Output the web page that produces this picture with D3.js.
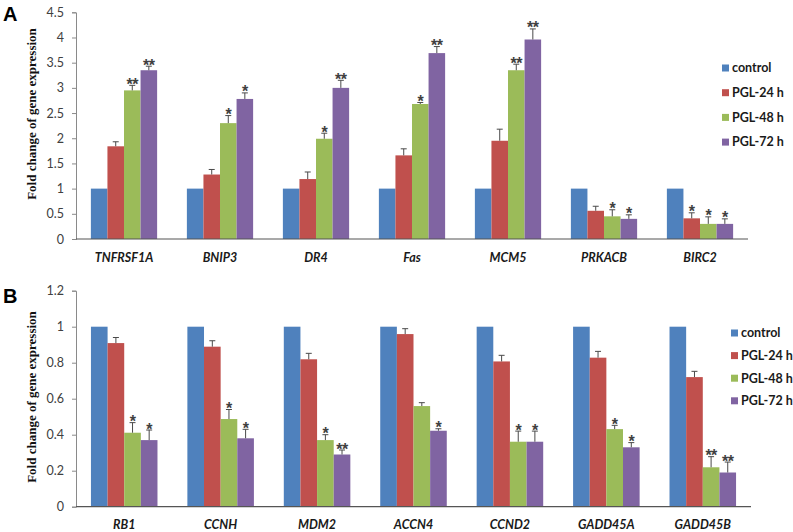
<!DOCTYPE html>
<html><head><meta charset="utf-8">
<script src="https://cdn.jsdelivr.net/npm/d3@7"></script>
<style>body{margin:0;background:#fff;} svg{display:block;}</style>
</head><body>
<svg id="c" width="793" height="532"></svg>
<script>
const series = ["control", "PGL-24 h", "PGL-48 h", "PGL-72 h"];
const colors = ["#4F81BD", "#C0504D", "#9BBB59", "#8064A2"];

// Panel A
const genesA = ["TNFRSF1A", "BNIP3", "DR4", "Fas", "MCM5", "PRKACB", "BIRC2"];
const controlA = [1, 1, 1, 1, 1, 1, 1];
const h24A = [1.84, 1.28, 1.19, 1.66, 1.95, 0.56, 0.41];
const h48A = [2.95, 2.30, 1.99, 2.68, 3.35, 0.45, 0.30];
const h72A = [3.35, 2.78, 3.00, 3.69, 3.96, 0.40, 0.30];
const errTop24A = [1.93, 1.38, 1.33, 1.79, 2.18, 0.65, 0.52];
const errTop48A = [3.05, 2.45, 2.10, 2.71, 3.47, 0.58, 0.44];
const errTop72A = [3.43, 2.90, 3.15, 3.82, 4.17, 0.48, 0.40];
const star24A = ["", "", "", "", "", "", "*"];
const star48A = ["**", "*", "*", "*", "**", "*", "*"];
const star72A = ["**", "*", "**", "**", "**", "*", "*"];
const ticksA = [0, 0.5, 1, 1.5, 2, 2.5, 3, 3.5, 4, 4.5];

// Panel B
const genesB = ["RB1", "CCNH", "MDM2", "ACCN4", "CCND2", "GADD45A", "GADD45B"];
const controlB = [1, 1, 1, 1, 1, 1, 1];
const h24B = [0.909, 0.889, 0.819, 0.959, 0.807, 0.828, 0.72];
const h48B = [0.411, 0.487, 0.370, 0.559, 0.361, 0.431, 0.219];
const h72B = [0.370, 0.380, 0.290, 0.422, 0.361, 0.330, 0.190];
const errTop24B = [0.94, 0.922, 0.852, 0.989, 0.841, 0.863, 0.752];
const errTop48B = [0.467, 0.54, 0.40, 0.578, 0.42, 0.452, 0.278];
const errTop72B = [0.426, 0.43, 0.315, 0.433, 0.42, 0.356, 0.248];
const star24B = ["", "", "", "", "", "", ""];
const star48B = ["*", "*", "*", "", "*", "*", "**"];
const star72B = ["*", "*", "**", "*", "*", "*", "**"];
const ticksB = [0, 0.2, 0.4, 0.6, 0.8, 1, 1.2];

const svg = d3.select("#c");
const tickFont = "Lato, 'Open Sans', sans-serif";

function panel(cfg) {
  const g = svg.append("g");
  const x0 = d3.scaleBand().domain(cfg.genes).range(cfg.xRange).paddingInner(0.31).paddingOuter(0.155);
  const x1 = d3.scaleBand().domain(series).range([0, x0.bandwidth()]);
  const y = d3.scaleLinear().domain(cfg.yDomain).range(cfg.yRange);
  const vals = [cfg.c, cfg.h24, cfg.h48, cfg.h72];
  const errs = [null, cfg.e24, cfg.e48, cfg.e72];
  const stars = [null, cfg.s24, cfg.s48, cfg.s72];

  // y axis
  const ya = g.append("g").attr("transform", `translate(${cfg.xRange[0]},0)`)
    .call(d3.axisLeft(y).tickValues(cfg.ticks).tickSize(4).tickPadding(8).tickFormat(d => String(d)));
  ya.select(".domain").attr("stroke", "#8a8a8a");
  ya.selectAll(".tick line").attr("stroke", "#8a8a8a");
  ya.selectAll(".tick text").attr("font-family", tickFont).attr("font-size", 12.5).attr("fill", "#404040");

  // bars
  for (let i = 0; i < cfg.genes.length; i++) {
    const gx = x0(cfg.genes[i]);
    for (let s = 0; s < 4; s++) {
      const bx = gx + x1(series[s]);
      const v = vals[s][i];
      g.append("rect").attr("x", bx).attr("y", y(v)).attr("width", x1.bandwidth())
        .attr("height", y(0) - y(v)).attr("fill", colors[s]);
    }
    for (let s = 1; s < 4; s++) {
      const cx = gx + x1(series[s]) + x1.bandwidth() / 2;
      const v = vals[s][i], e = errs[s][i];
      g.append("line").attr("x1", cx).attr("x2", cx).attr("y1", y(v)).attr("y2", y(e))
        .attr("stroke", "#4a4a4a").attr("stroke-width", 1);
      g.append("line").attr("x1", cx - 3).attr("x2", cx + 3).attr("y1", y(e)).attr("y2", y(e))
        .attr("stroke", "#4a4a4a").attr("stroke-width", 1);
      const st = stars[s][i];
      if (st) {
        g.append("text").attr("x", cx).attr("y", y(e) + 4.5).attr("text-anchor", "middle")
          .attr("font-family", "'Liberation Sans', Arial, sans-serif").attr("font-weight", "bold")
          .attr("font-size", 16).attr("letter-spacing", -0.5).attr("fill", "#404040").text(st);
      }
    }
  }

  // x axis line
  g.append("line").attr("x1", cfg.xRange[0]).attr("x2", cfg.xRange[1])
    .attr("y1", y(0)).attr("y2", y(0)).attr("stroke", "#555").attr("stroke-width", 1.2);

  // category labels
  cfg.genes.forEach(gn => {
    g.append("text").attr("x", x0(gn) + x0.bandwidth() / 2).attr("y", cfg.labelY)
      .attr("text-anchor", "middle").attr("font-family", tickFont)
      .attr("font-weight", "bold").attr("font-style", "italic").attr("font-size", 12.5)
      .attr("fill", "#1a1a1a").text(gn);
  });

  // y title
  g.append("text").attr("transform", `translate(${cfg.titleX},${cfg.titleY}) rotate(-90)`)
    .attr("text-anchor", "middle").attr("font-family", "'Liberation Serif', 'Times New Roman', serif")
    .attr("font-weight", "bold").attr("font-size", 13).attr("fill", "#111")
    .text("Fold change of gene expression");

  // panel letter
  g.append("text").attr("x", cfg.letterX).attr("y", cfg.letterY)
    .attr("font-family", "'Liberation Sans', Arial, sans-serif").attr("font-weight", "bold")
    .attr("font-size", 20).attr("fill", "#000").text(cfg.letter);

  // legend
  series.forEach((sn, k) => {
    const ly = cfg.legY + k * cfg.legStep;
    g.append("rect").attr("x", cfg.legX).attr("y", ly - 3.5).attr("width", 7).attr("height", 7).attr("fill", colors[k]);
    g.append("text").attr("x", cfg.legX + 10).attr("y", ly).attr("dy", "0.35em")
      .attr("font-family", tickFont).attr("font-weight", "bold").attr("font-size", 12.5)
      .attr("fill", "#1a1a1a").text(sn);
  });
}

panel({
  genes: genesA, c: controlA, h24: h24A, h48: h48A, h72: h72A,
  e24: errTop24A, e48: errTop48A, e72: errTop72A,
  s24: star24A, s48: star48A, s72: star72A, ticks: ticksA,
  xRange: [76, 748], yDomain: [0, 4.5], yRange: [239, 12.3],
  labelY: 262, titleX: 36, titleY: 114, letter: "A", letterX: 3, letterY: 21,
  legX: 722, legY: 68, legStep: 24.7
});
panel({
  genes: genesB, c: controlB, h24: h24B, h48: h48B, h72: h72B,
  e24: errTop24B, e48: errTop48B, e72: errTop72B,
  s24: star24B, s48: star48B, s72: star72B, ticks: ticksB,
  xRange: [76, 751], yDomain: [0, 1.2], yRange: [506.7, 290.7],
  labelY: 529, titleX: 36, titleY: 397, letter: "B", letterX: 3, letterY: 303,
  legX: 731, legY: 333, legStep: 22.6
});
</script>
</body></html>
